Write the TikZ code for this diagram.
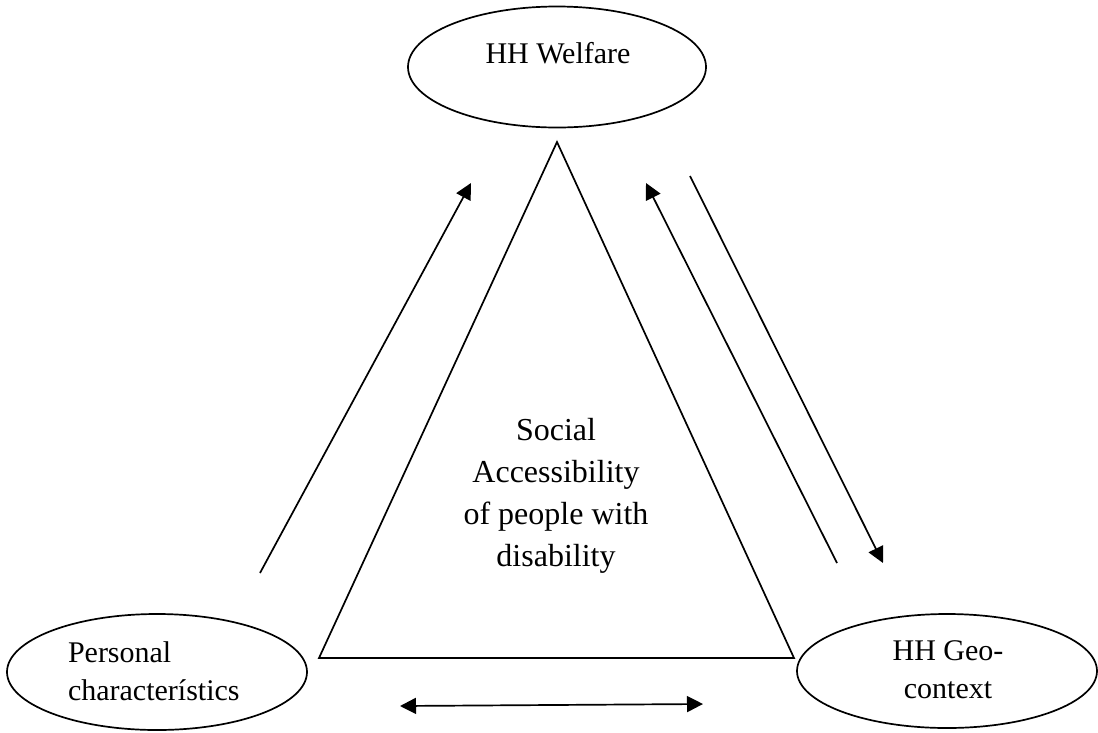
\documentclass[tikz,border=0pt]{standalone}
\usepackage{fontspec}
\setmainfont{Liberation Serif}
\usetikzlibrary{shapes.geometric,arrows.meta}
\begin{document}
\begin{tikzpicture}[x=1pt,y=-1pt,
  oval/.style={draw,ellipse,line width=1.7pt,inner sep=0pt,outer sep=0pt},
  lbl/.style={inner sep=0pt,outer sep=0pt,font=\fontsize{30}{38}\selectfont},
  tip/.style={},
  conn/.style={line width=1.7pt,-{Triangle[length=16pt,width=16pt]}},
  biconn/.style={line width=1.7pt,{Triangle[length=16pt,width=16pt]}-{Triangle[length=16pt,width=16pt]}}]
\useasboundingbox (0,0) rectangle (1098,732);
% ellipses
\node[oval,minimum width=298pt,minimum height=121pt] (wel) at (557,67) {};
\node[oval,minimum width=300pt,minimum height=116pt] (pc) at (157,672) {};
\node[oval,minimum width=300pt,minimum height=114pt] (geo) at (947,671) {};
% texts
\node[lbl,anchor=base] (weltext) at (558,63) {HH Welfare};
\node[lbl,align=left,anchor=north west] (pctext) at (68,642) {Personal\\characterístics};
\node[lbl,align=center,anchor=north] (geotext) at (948,641) {HH Geo-\\context};
% triangle
\coordinate (apex) at (557,142);
\coordinate (bl) at (319,658);
\coordinate (br) at (794,658);
\draw[line width=1.7pt,line join=miter] (apex) -- (bl) -- (br) -- cycle;
\node[inner sep=0pt,align=center,font=\fontsize{32}{42}\selectfont] (sa) at (556,496) {Social\\Accessibility\\of people with\\disability};
% arrows
\coordinate (a1s) at (260,573); \coordinate (a1e) at (471,183);
\coordinate (a2s) at (837,563); \coordinate (a2e) at (646,183);
\coordinate (a3s) at (690,176); \coordinate (a3e) at (883,563);
\coordinate (a4s) at (400,706); \coordinate (a4e) at (703,704);
\draw[conn] (a1s) -- (a1e);
\draw[conn] (a2s) -- (a2e);
\draw[conn] (a3s) -- (a3e);
\draw[biconn] (a4s) -- (a4e);
\end{tikzpicture}
\end{document}
